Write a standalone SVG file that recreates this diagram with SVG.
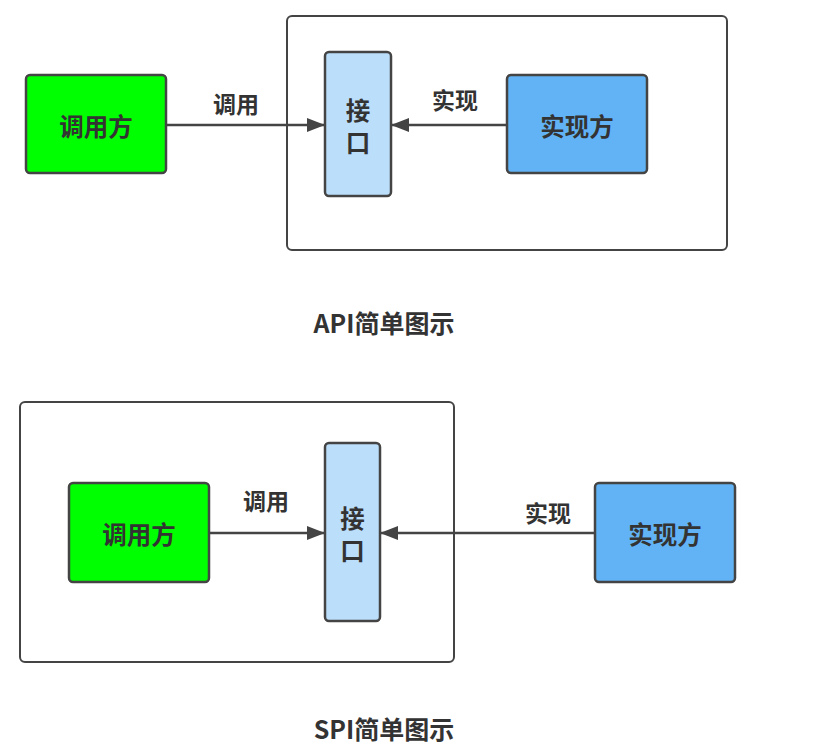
<svg xmlns="http://www.w3.org/2000/svg" width="817" height="752" viewBox="0 0 817 752">
<defs>
<style>
.frame{fill:#fff;stroke:#444;stroke-width:2}
.node{stroke:#444;stroke-width:2.5}
.caller{fill:#00ff00}
.iface{fill:#bbdefb}
.impl{fill:#62b3f6}
text{font-family:"Noto Sans CJK SC","Noto Sans",sans-serif;font-weight:bold;fill:#333;text-anchor:middle;dominant-baseline:central}
.t{font-size:24.5px}
.lbl{font-size:23px}
.title{font-size:25px}
.edge{stroke:#444;stroke-width:2.5;fill:none;marker-end:url(#arr)}
</style>
<marker id="arr" viewBox="0 0 18 14" refX="18" refY="7" markerWidth="18" markerHeight="14" markerUnits="userSpaceOnUse" orient="auto">
<path d="M0,0 L18,7 L0,14 Z" fill="#444"/>
</marker>
</defs>
<g id="api-frame"><rect class="frame" x="287" y="16" width="440" height="234" rx="5"/></g>
<g id="sp-frame"><rect class="frame" x="20" y="402" width="434" height="260" rx="5"/></g>
<g id="connectors">
<line class="edge" x1="166" y1="125" x2="325" y2="125"/>
<line class="edge" x1="507" y1="125" x2="391" y2="125"/>
<line class="edge" x1="209" y1="533" x2="325" y2="533"/>
<line class="edge" x1="595" y1="533" x2="380" y2="533"/>
<text class="lbl" x="236" y="103">调用</text>
<text class="lbl" x="455" y="99">实现</text>
<text class="lbl" x="266" y="500">调用</text>
<text class="lbl" x="548" y="512">实现</text>
</g>
<g id="api-caller"><rect class="node caller" x="26" y="75" width="140" height="98" rx="4"/><text class="t" x="96" y="125">调用方</text></g>
<g id="api-iface"><rect class="node iface" x="325" y="52" width="66" height="144" rx="4"/><text class="t" x="358" y="109">接</text><text class="t" x="358" y="141">口</text></g>
<g id="api-impl"><rect class="node impl" x="507" y="75" width="140" height="98" rx="4"/><text class="t" x="577" y="125">实现方</text></g>
<g id="api-title"><text class="title" x="384" y="322">API简单图示</text></g>
<g id="spi-caller"><rect class="node caller" x="69" y="483" width="140" height="99" rx="4"/><text class="t" x="139" y="533">调用方</text></g>
<g id="spi-iface"><rect class="node iface" x="325" y="443" width="55" height="178" rx="4"/><text class="t" x="352.5" y="517">接</text><text class="t" x="352.5" y="549">口</text></g>
<g id="spi-impl"><rect class="node impl" x="595" y="483" width="140" height="99" rx="4"/><text class="t" x="665" y="533">实现方</text></g>
<g id="spi-title"><text class="title" x="384" y="728">SPI简单图示</text></g>
</svg>
